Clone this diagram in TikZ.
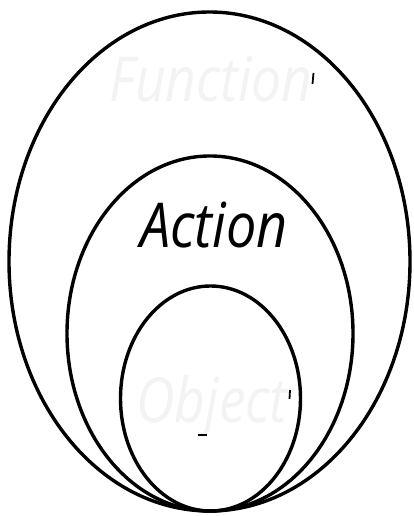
\documentclass[tikz,border=0pt]{standalone}
\usepackage{fontspec}
\setmainfont{Open Sans}
\usetikzlibrary{calc}
\definecolor{faint}{HTML}{F3F3F3}
\tikzset{
  ring/.style={line width=3.4pt, draw=black},
  lbl/.style={anchor=base, inner sep=0pt, font=\fontsize{62}{62}\selectfont\itshape},
  tickmark/.style={line width=1.8pt}
}
\begin{document}
\begin{tikzpicture}[x=1pt,y=1pt]
\useasboundingbox (0,0) rectangle (413,516);
\fill[white] (0,0) rectangle (413,516);
\draw[ring] (209.5,254.5) ellipse [x radius=200.5, y radius=249.5];
\draw[ring] (210,182.5) ellipse [x radius=143, y radius=177.5];
\draw[ring] (210.5,117.5) ellipse [x radius=90, y radius=112.5];
\node[lbl, text=faint] (fn) at (211,414) {\scalebox{0.86}[1]{Function}};
\node[lbl, text=black] (ac) at (214,268) {\scalebox{0.87}[1]{Action}};
\node[lbl, text=faint] (ob) at (212,93) {\scalebox{0.86}[1]{Object}};
\coordinate (m1a) at (313.5,443); \coordinate (m1b) at (312.5,432);
\draw[tickmark] (m1a) -- (m1b);
\coordinate (m2a) at (290,126); \coordinate (m2b) at (289.5,117);
\draw[tickmark] (m2a) -- (m2b);
\coordinate (m3a) at (198,81); \coordinate (m3b) at (207,81);
\draw[tickmark] (m3a) -- (m3b);
\end{tikzpicture}
\end{document}
